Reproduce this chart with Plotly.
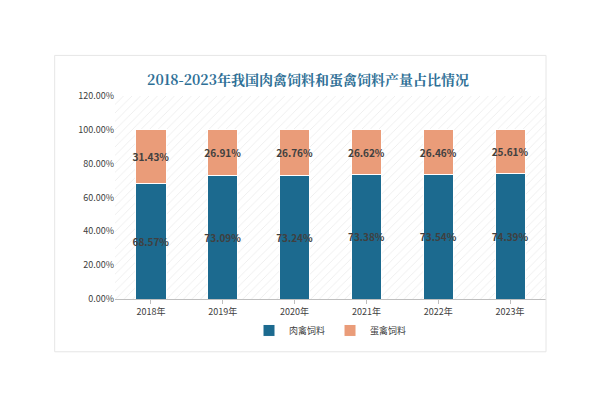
import plotly.graph_objects as go

years = ["2018年", "2019年", "2020年", "2021年", "2022年", "2023年"]
meat = [68.57, 73.09, 73.24, 73.38, 73.54, 74.39]
egg = [31.43, 26.91, 26.76, 26.62, 26.46, 25.61]

fig = go.Figure()

# hatched plot background as a full-width bar on the base axis, real bars overlay it
fig.add_trace(go.Bar(
    x=[0], y=[120], xaxis="x", width=1, showlegend=False, hoverinfo="skip",
    marker=dict(color="white", line_width=0,
                pattern=dict(shape="/", fgcolor="#dcdcdc", size=6, solidity=0.15)),
))
fig.add_trace(go.Bar(
    x=years, y=meat, name="肉禽饲料", xaxis="x2",
    marker=dict(color="#1c6a8f", line=dict(color="white", width=1)),
    text=[f"<b>{v:.2f}%</b>" for v in meat], textposition="inside", insidetextanchor="middle",
    textangle=0, textfont=dict(color="#404040", size=10), width=0.42,
))
fig.add_trace(go.Bar(
    x=years, y=egg, name="蛋禽饲料", xaxis="x2",
    marker=dict(color="#ea9c79", line=dict(color="white", width=1)),
    text=[f"<b>{v:.2f}%</b>" for v in egg], textposition="inside", insidetextanchor="middle",
    textangle=0, textfont=dict(color="#404040", size=10), width=0.42,
))

fig.update_layout(
    width=600, height=401, barmode="stack",
    paper_bgcolor="white", plot_bgcolor="white",
    font=dict(family="Noto Sans CJK SC", size=9, color="#404040"),
    title=dict(text="<b>2018-2023年我国肉禽饲料和蛋禽饲料产量占比情况</b>", x=0.5, y=0.82,
               yanchor="middle",
               font=dict(family="Noto Serif CJK SC, Noto Sans CJK SC", size=14, color="#2e6f96")),
    margin=dict(l=107, r=62, t=88, b=110),
    xaxis=dict(range=[-0.5, 0.5], visible=False),
    xaxis2=dict(overlaying="x", side="bottom", anchor="y", showline=True, linecolor="#bfbfbf",
                ticks="outside", tickcolor="#bfbfbf", ticklen=4),
    yaxis=dict(range=[0, 120], dtick=20, ticksuffix=".00%", showgrid=False, zeroline=False),
    legend=dict(orientation="h", x=0.5, xanchor="center", y=-0.155, yanchor="middle",
                bgcolor="rgba(0,0,0,0)", font=dict(size=9), traceorder="normal"),
    uniformtext=dict(mode="show", minsize=9),
    shapes=[dict(type="rect", xref="paper", yref="paper", x0=-0.14, x1=1.0, y0=-0.26, y1=1.2,
                 line=dict(color="#e6e6e6", width=1))],
)

fig.write_html("out.html")
